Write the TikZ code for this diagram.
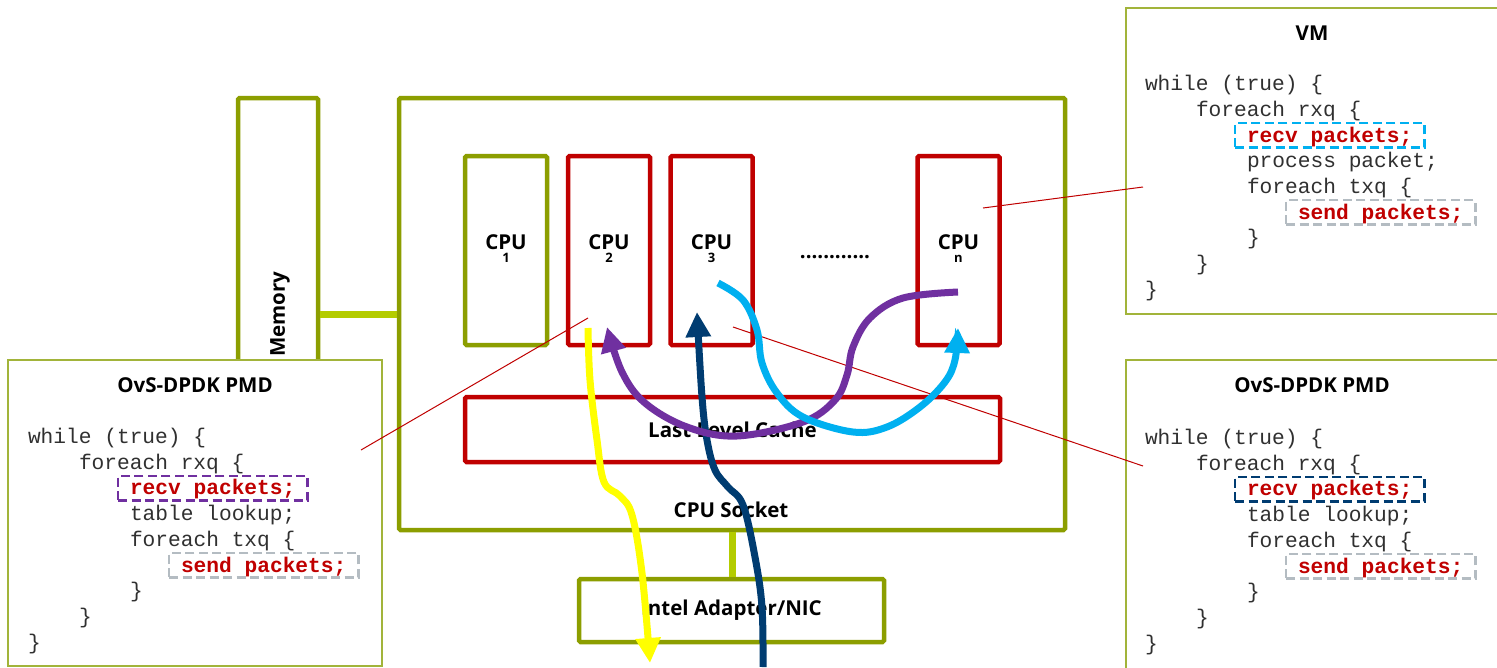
\documentclass[tikz,border=0pt]{standalone}
\usepackage{fontspec}
\setmainfont{Open Sans}
\newfontfamily\codefont{Liberation Mono}
\usetikzlibrary{arrows.meta}
\definecolor{sockgreen}{HTML}{8C9E00}
\definecolor{linkgreen}{HTML}{B4CC00}
\definecolor{panelgreen}{HTML}{A2B43A}
\definecolor{cpured}{HTML}{C00000}
\definecolor{codegray}{HTML}{303030}
\definecolor{flowyellow}{HTML}{FFFF00}
\definecolor{flowblue}{HTML}{003C71}
\definecolor{flowpurple}{HTML}{7030A0}
\definecolor{flowcyan}{HTML}{00B0F0}
\definecolor{dashgray}{HTML}{B4BCC2}
\newcommand\cw{12.75}
\newcommand\ls{25.7}
\tikzset{
  greenbox/.style={draw=sockgreen, line width=4.5pt, rounded corners=1.5pt},
  redbox/.style={draw=cpured, line width=4.5pt, rounded corners=1.5pt},
  lbl/.style={font=\bfseries\fontsize{20.5}{22}\selectfont, text=black},
  cpubox/.style={redbox, minimum width=82pt, minimum height=189pt, inner sep=0pt},
  cpulbl/.style={lbl, inner sep=0pt},
  cpusub/.style={font=\bfseries\fontsize{13}{13}\selectfont, text=black, inner sep=0pt},
  panel/.style={draw=panelgreen, line width=1.5pt, fill=white},
  code/.style={font=\codefont\fontsize{21.2}{25}\selectfont, text=codegray, anchor=base west, inner sep=0pt, outer sep=0pt},
  hot/.style={code, font=\codefont\bfseries\fontsize{21.2}{25}\selectfont, text=cpured},
  dbox/.style={dash pattern=on 9pt off 4.5pt, line width=2.5pt, inner xsep=12pt, inner ysep=0pt, text height=19pt, text depth=5.5pt},
  flow/.style={line width=7pt, -{Triangle[width=24pt,length=25pt]}},
  link/.style={draw=linkgreen, line width=7pt},
  callout/.style={draw=cpured, line width=1pt},
  ptitle/.style={lbl}
}
% #1 prefix, #2 x of code, #3 first baseline, #4 fourth line text, #5 recv box colour
\newcommand\codepanel[5]{%
  \node[code] (#1a) at (#2,#3) {while (true) \{};
  \node[code] (#1b) at ({#2+4*\cw},{#3+\ls}) {foreach rxq \{};
  \node[hot, dbox, draw=#5] (#1c) at ({#2+8*\cw-12},{#3+2*\ls}) {recv packets;};
  \node[code] (#1d) at ({#2+8*\cw},{#3+3*\ls}) {#4};
  \node[code] (#1e) at ({#2+8*\cw},{#3+4*\ls}) {foreach txq \{};
  \node[hot, dbox, draw=dashgray] (#1f) at ({#2+12*\cw-12},{#3+5*\ls}) {send packets;};
  \node[code] (#1g) at ({#2+8*\cw},{#3+6*\ls}) {\}};
  \node[code] (#1h) at ({#2+4*\cw},{#3+7*\ls}) {\}};
  \node[code] (#1i) at (#2,{#3+8*\ls}) {\}};
}
\begin{document}
\begin{tikzpicture}[x=1pt,y=-1pt]
\useasboundingbox (0,0) rectangle (1497,667);
\fill[white] (0,0) rectangle (1497,667);

% memory and socket
\node[greenbox, minimum width=80pt, minimum height=470pt, inner sep=0pt] (memory) at (278,333) {};
\node[lbl, rotate=90] (memlbl) at (280,314) {Memory};
\node[greenbox, minimum width=666pt, minimum height=432pt, inner sep=0pt] (socket) at (732,314) {};
\node[lbl] (socklbl) at (731,510) {CPU Socket};

% CPUs
\node[cpubox, draw=sockgreen] (cpu1) at (506,250.5) {};
\node[cpubox] (cpu2) at (609,250.5) {};
\node[cpubox] (cpu3) at (711.5,250.5) {};
\node[cpubox] (cpun) at (958.5,250.5) {};
\foreach \c/\s in {cpu1/1, cpu2/2, cpu3/3, cpun/n}{
  \node[cpulbl, anchor=base] (\c lbl) at ([yshift=1.5pt]\c.center) {CPU};
  \node[cpusub, anchor=base] (\c sub) at ([yshift=-12pt]\c.center) {\s};
}
\node[lbl, anchor=base] (dots) at (835,258) {............};

% cache and NIC
\node[redbox, lbl, minimum width=535pt, minimum height=65pt, inner sep=0pt] (llc) at (732.5,429.5) {Last Level Cache};
\node[greenbox, lbl, minimum width=305pt, minimum height=63pt, inner sep=0pt] (nic) at (731.5,610.5) {Intel Adapter/NIC};

% links
\draw[link] (memory.east |- 0,314) -- (socket.west |- 0,314);
\draw[link] (socket.south -| 732,0) -- (nic.north -| 732,0);

% panels
\node[panel, minimum width=374pt, minimum height=306pt, inner sep=0pt] (vm) at (1313,161) {};
\node[ptitle] (vmtitle) at (1312,33) {VM};
\codepanel{vm}{1145}{90.7}{process packet;}{flowcyan}

\node[panel, minimum width=374pt, minimum height=310pt, inner sep=0pt] (ovsr) at (1313,515) {};
\node[ptitle] (ovsrtitle) at (1312,385) {OvS-DPDK PMD};
\codepanel{ovsr}{1145}{444.5}{table lookup;}{flowblue}

\node[panel, minimum width=374pt, minimum height=306pt, inner sep=0pt] (ovsl) at (195,513) {};
\node[ptitle] (ovsltitle) at (195,385) {OvS-DPDK PMD};
\codepanel{ovsl}{28}{443.5}{table lookup;}{flowpurple}

% callouts
\coordinate (c2) at (588,318);
\coordinate (c3) at (733,327);
\coordinate (cn) at (983,208);
\coordinate (pl) at (361,450);
\coordinate (pr) at (1143,466);
\coordinate (pv) at (1143,187);
\draw[callout] (c2) -- (pl);
\draw[callout] (c3) -- (pr);
\draw[callout] (cn) -- (pv);

% flows
\coordinate (ys) at (588,328);
\coordinate (ye) at (650,663);
\draw[flow, flowyellow] plot[smooth, tension=0.6] coordinates {(ys) (590,380) (597,440) (604,482) (620,496) (632,515) (642,573) (ye)};

\coordinate (bs) at (763,667);
\coordinate (be) at (697,312);
\draw[flow, flowblue] plot[smooth, tension=0.6] coordinates {(bs) (762,607) (755,557) (743,505) (728,487) (715,470) (707,440) (702,397) (be)};

\coordinate (ps) at (958,292);
\coordinate (pe) at (607,327);
\draw[flow, flowpurple] plot[smooth, tension=0.6] coordinates {(ps) (903,298) (870,318) (853,347) (847,375) (835,400) (803,422) (737,436) (687,427) (645,403) (622,372) (pe)};

\coordinate (cs) at (718,283);
\coordinate (ce) at (958,328);
\draw[flow, flowcyan] plot[smooth, tension=0.6] coordinates {(cs) (743,300) (757,330) (762,363) (777,393) (803,417) (853,432) (887,427) (920,407) (945,382) (955,360) (ce)};
\end{tikzpicture}
\end{document}
